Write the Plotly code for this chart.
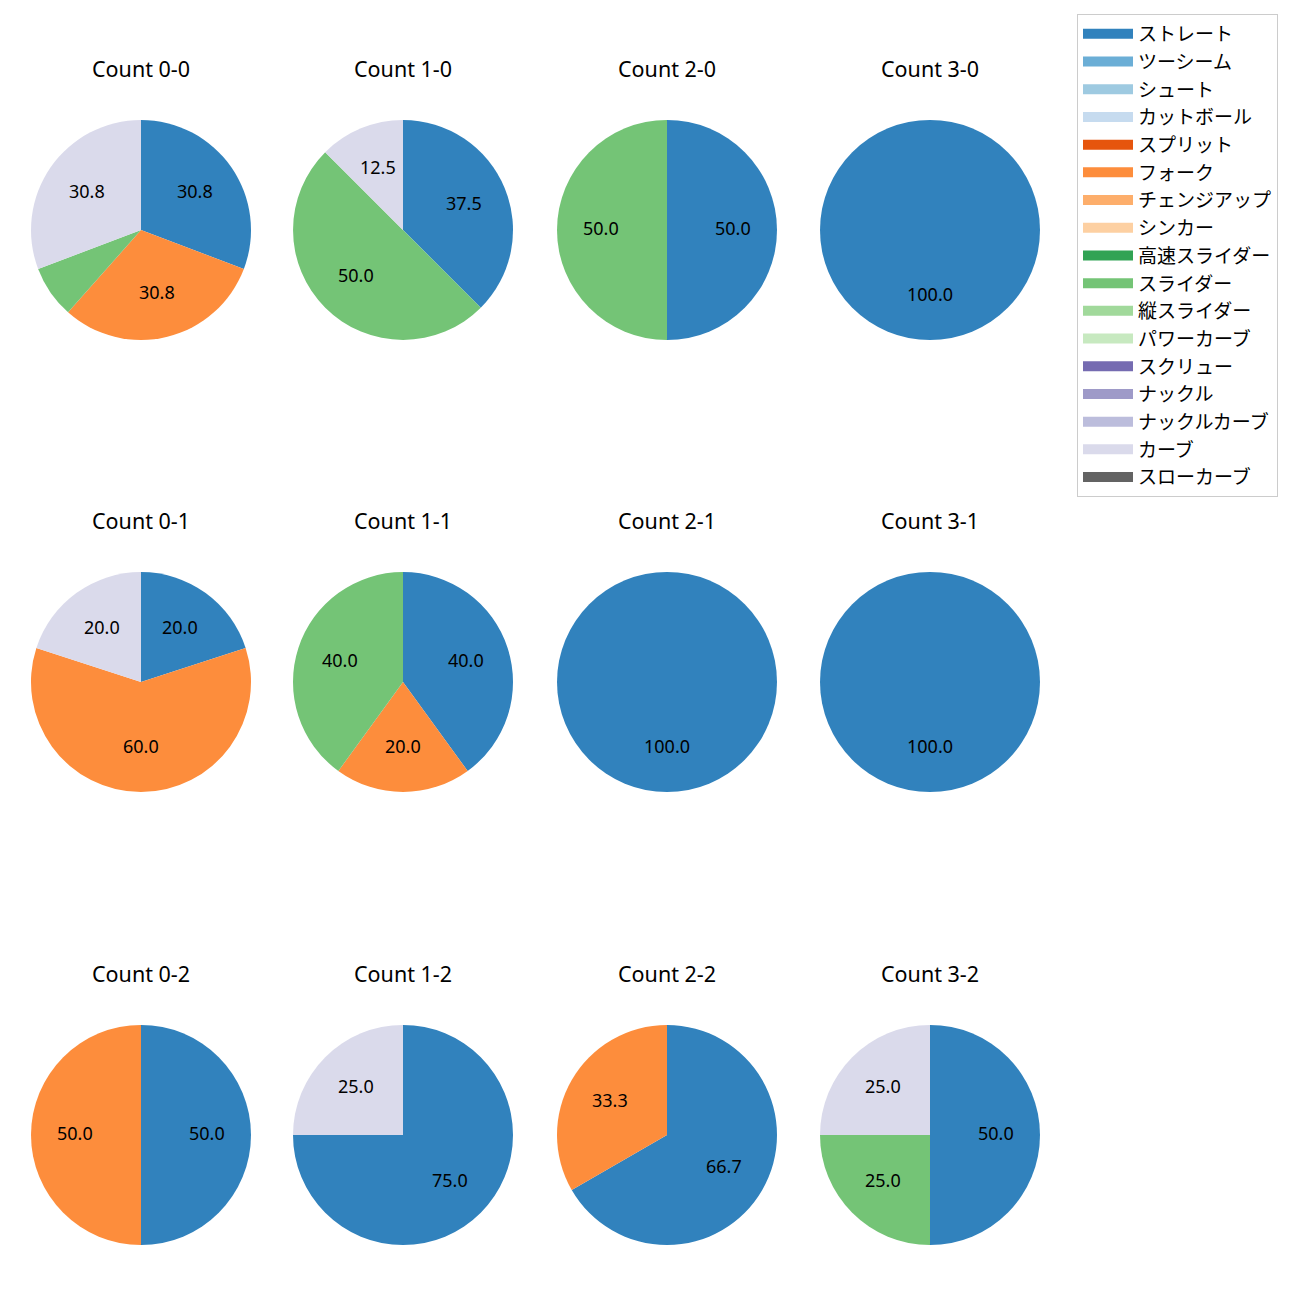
import math
import plotly.graph_objects as go

categories = ["ストレート", "ツーシーム", "シュート", "カットボール", "スプリット", "フォーク",
              "チェンジアップ", "シンカー", "高速スライダー", "スライダー", "縦スライダー",
              "パワーカーブ", "スクリュー", "ナックル", "ナックルカーブ", "カーブ", "スローカーブ"]
colors = ["#3182bd", "#6baed6", "#9ecae1", "#c6dbef", "#e6550d", "#fd8d3c", "#fdae6b",
          "#fdd0a2", "#31a354", "#74c476", "#a1d99b", "#c7e9c0", "#756bb1", "#9e9ac8",
          "#bcbddc", "#dadaeb", "#636363"]

counts = ["0-0", "1-0", "2-0", "3-0", "0-1", "1-1", "2-1", "3-1", "0-2", "1-2", "2-2", "3-2"]
straight = [4, 3, 1, 1, 1, 2, 1, 1, 1, 3, 2, 2]
fork =     [4, 0, 0, 0, 3, 1, 0, 0, 1, 0, 1, 0]
slider =   [1, 4, 1, 0, 0, 2, 0, 0, 0, 0, 0, 1]
curve =    [4, 1, 0, 0, 1, 0, 0, 0, 0, 1, 0, 1]

W = H = 1300
OFF = 8  # browser body margin
col_cx = [141, 403, 667, 930]
row_cy = [230, 682, 1135]
title_dy = 162  # title centre above pie centre
R = 110
FONT = "Noto Sans, Noto Sans CJK JP, sans-serif"


def px_x(x):
    return (x - OFF) / W


def px_y(y):
    return 1 - (y - OFF) / H


fig = go.Figure()
annotations = []

for i, name in enumerate(counts):
    row, col = divmod(i, 4)
    cx, cy = col_cx[col], row_cy[row]
    vals = [0] * len(categories)
    vals[categories.index("ストレート")] = straight[i]
    vals[categories.index("フォーク")] = fork[i]
    vals[categories.index("スライダー")] = slider[i]
    vals[categories.index("カーブ")] = curve[i]
    fig.add_trace(go.Pie(
        labels=categories, values=vals, sort=False, direction="clockwise", rotation=0,
        marker=dict(colors=colors, line=dict(width=0)), textinfo="none",
        hoverinfo="label+percent", showlegend=False,
        domain=dict(x=[px_x(cx - R), px_x(cx + R)], y=[px_y(cy + R), px_y(cy - R)]),
    ))
    annotations.append(dict(
        x=px_x(cx), y=px_y(cy - title_dy), xref="paper", yref="paper",
        text=f"Count {name}", showarrow=False,
        font=dict(family=FONT, size=21.5, color="#000"), xanchor="center", yanchor="middle"))
    total = sum(vals)
    cum = 0.0
    for v in vals:
        if v <= 0:
            continue
        frac = v / total
        mid = math.radians(90 - 360 * (cum + frac / 2))
        cum += frac
        pct = frac * 100
        if pct < 10:
            continue
        lx = cx + 0.6 * R * math.cos(mid)
        ly = cy - 0.6 * R * math.sin(mid) - 2  # small baseline correction
        annotations.append(dict(
            x=px_x(lx), y=px_y(ly), xref="paper", yref="paper", text=f"{pct:.1f}",
            showarrow=False, font=dict(family=FONT, size=18, color="#000"),
            xanchor="center", yanchor="middle"))

for cat, c in zip(categories, colors):
    fig.add_trace(go.Scatter(x=[None], y=[None], mode="lines", name=cat, legendgroup=cat,
                             line=dict(color=c, width=14), hoverinfo="skip"))

fig.update_layout(
    width=W, height=H, margin=dict(l=0, r=0, t=0, b=0),
    paper_bgcolor="white", plot_bgcolor="white",
    xaxis=dict(visible=False), yaxis=dict(visible=False),
    annotations=annotations,
    font=dict(family=FONT),
    legend=dict(x=px_x(1077), y=px_y(14), xanchor="left", yanchor="top",
                bordercolor="#cccccc", borderwidth=1, bgcolor="white", itemwidth=50,
                font=dict(family=FONT, size=19, color="#000"), tracegroupgap=0),
)

fig.write_html("out.html")
